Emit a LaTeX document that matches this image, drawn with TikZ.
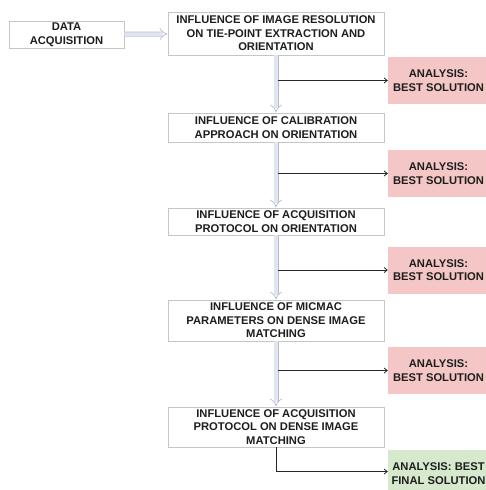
\documentclass[tikz,border=0pt]{standalone}
\usepackage{fontspec}
\setmainfont{Liberation Sans}
\usetikzlibrary{arrows.meta}
\definecolor{boxedge}{HTML}{C6C6C6}
\definecolor{anapink}{HTML}{F4C7C6}
\definecolor{anagreen}{HTML}{D6E9CC}
\definecolor{pipeedge}{HTML}{B7BFCF}
\definecolor{pipefill}{HTML}{E0E5EF}
\definecolor{txt}{HTML}{1E1E1E}
\begin{document}
\begin{tikzpicture}[x=1pt,y=-1pt,
  every node/.style={font=\bfseries\fontsize{11.2}{13.5}\selectfont, align=center, text=txt, inner sep=0pt},
  stepbox/.style={draw=boxedge, line width=0.7pt, fill=white, minimum width=216pt},
  anabox/.style={fill=anapink, minimum width=101pt, minimum height=47pt},
  finalbox/.style={anabox, fill=anagreen},
  pipe/.style={draw=pipeedge, line width=0.7pt, double=pipefill, double distance=3.6pt, -{Implies}},
  result/.style={draw=black!85, line width=0.8pt, -{Straight Barb[length=3pt,width=5pt]}}
]
\clip (0,0) rectangle (486,490);
\fill[white] (0,0) rectangle (486,490);

\node[stepbox, minimum width=115pt, minimum height=27pt] (da) at (66.5,34.5) {DATA\\ACQUISITION};
\node[stepbox, minimum height=43pt] (b1) at (276,33.5) {INFLUENCE OF IMAGE RESOLUTION\\ON TIE-POINT EXTRACTION AND\\ORIENTATION};
\node[stepbox, minimum height=29pt] (b2) at (276,127.5) {INFLUENCE OF CALIBRATION\\APPROACH ON ORIENTATION};
\node[stepbox, minimum height=27pt] (b3) at (276,221.5) {INFLUENCE OF ACQUISITION\\PROTOCOL ON ORIENTATION};
\node[stepbox, minimum height=41pt] (b4) at (276,320.5) {INFLUENCE OF MICMAC\\PARAMETERS ON DENSE IMAGE\\MATCHING};
\node[stepbox, minimum height=40pt] (b5) at (276,427) {INFLUENCE OF ACQUISITION\\PROTOCOL ON DENSE IMAGE\\MATCHING};

\node[anabox] (a1) at (438.5,80.5) {ANALYSIS:\\BEST SOLUTION};
\node[anabox] (a2) at (438.5,173.5) {ANALYSIS:\\BEST SOLUTION};
\node[anabox] (a3) at (438.5,270) {ANALYSIS:\\BEST SOLUTION};
\node[anabox] (a4) at (438.5,370.5) {ANALYSIS:\\BEST SOLUTION};
\node[finalbox] (a5) at (438.5,473.5) {ANALYSIS: BEST\\FINAL SOLUTION};

\draw[pipe] (da) -- (b1);
\draw[pipe] (b1) -- (b2);
\draw[pipe] (b2) -- (b3);
\draw[pipe] (b3) -- (b4);
\draw[pipe] (b4) -- (b5);

\draw[result] ([xshift=2pt]b1.south |- a1.west) -- (a1.west);
\draw[result] ([xshift=2pt]b2.south |- a2.west) -- (a2.west);
\draw[result] ([xshift=2pt]b3.south |- a3.west) -- (a3.west);
\draw[result] ([xshift=2pt]b4.south |- a4.west) -- (a4.west);
\draw[result] (b5.south) |- ([yshift=2pt]a5.west);
\end{tikzpicture}
\end{document}
